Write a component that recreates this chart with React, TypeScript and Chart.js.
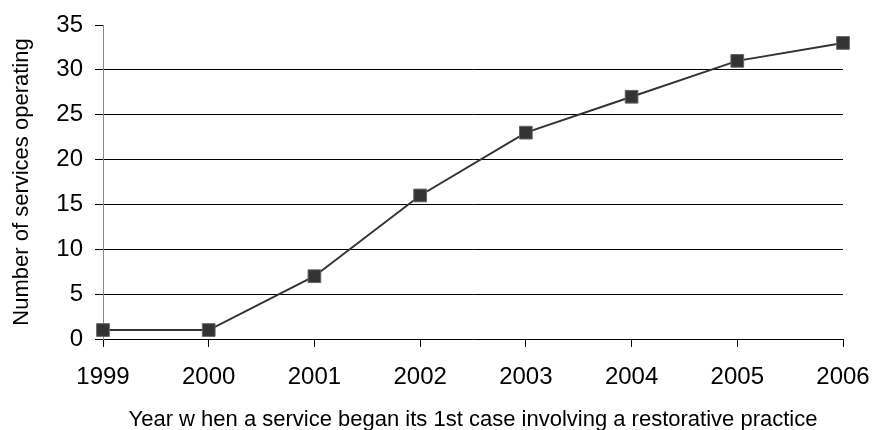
import React, { useEffect, useRef } from "react";
import { Chart, registerables } from "chart.js";

Chart.register(...registerables);

const years = ["1999", "2000", "2001", "2002", "2003", "2004", "2005", "2006"];
const services = [1, 1, 7, 16, 23, 27, 31, 33];
const yMin = 0;
const yMax = 35;
const yStep = 5;
const xTitle = "Year w hen a service began its 1st case involving a restorative practice";
const yTitle = "Number of services operating";

const FONT = "'Liberation Sans', Arial, sans-serif";

export default function App() {
  const ref = useRef<HTMLCanvasElement | null>(null);

  useEffect(() => {
    if (!ref.current) return;
    const chart = new Chart(ref.current, {
      type: "line",
      data: {
        labels: years,
        datasets: [
          {
            data: services,
            borderColor: "#333333",
            borderWidth: 2,
            backgroundColor: "#333333",
            pointStyle: "rect",
            pointRadius: 9,
            pointHoverRadius: 9,
            pointBackgroundColor: "#333333",
            pointBorderColor: "#666666",
            pointBorderWidth: 1,
            tension: 0,
            clip: false as any,
          },
        ],
      },
      options: {
        animation: false,
        responsive: false,
        maintainAspectRatio: false,
        layout: { padding: { left: 0, top: 25, right: 32, bottom: 0 } },
        plugins: { legend: { display: false }, tooltip: { enabled: false } },
        scales: {
          x: {
            type: "category",
            offset: false,
            border: { display: true, color: "#000000", width: 1 },
            grid: {
              drawOnChartArea: false,
              drawTicks: true,
              tickLength: 8,
              tickColor: "#000000",
              color: "#000000",
            },
            ticks: {
              color: "#000000",
              font: { family: FONT, size: 24 },
              padding: 16,
              maxRotation: 0,
              autoSkip: false,
            },
            title: {
              display: true,
              text: xTitle,
              color: "#000000",
              font: { family: FONT, size: 22, lineHeight: 0.9 },
              padding: { top: 0, bottom: 0 },
            },
            afterFit: (scale: any) => {
              scale.height = 91;
              scale.paddingLeft = 0;
              scale.paddingRight = 0;
            },
          },
          y: {
            min: yMin,
            max: yMax,
            border: { display: true, color: "#888888", width: 1 },
            grid: {
              drawTicks: true,
              tickLength: 8,
              tickColor: "#000000",
              lineWidth: 1,
              color: (ctx: any) =>
                ctx.tick && (ctx.tick.value === yMax || ctx.tick.value === yMin)
                  ? "rgba(0,0,0,0)"
                  : "#000000",
            },
            ticks: {
              stepSize: yStep,
              color: "#000000",
              font: { family: FONT, size: 24 },
              padding: 12,
            },
            title: {
              display: true,
              text: yTitle,
              color: "#000000",
              font: { family: FONT, size: 22, lineHeight: 1 },
              padding: { top: 11, bottom: 0 },
            },
            afterFit: (scale: any) => {
              scale.width = 103;
              scale.paddingTop = 0;
              scale.paddingBottom = 0;
            },
          },
        },
      },
    });
    return () => chart.destroy();
  }, []);

  return (
    <div style={{ position: "fixed", left: 0, top: 0, width: 875, height: 430, background: "#ffffff" }}>
      <canvas ref={ref} width={875} height={430} style={{ width: 875, height: 430, display: "block" }} />
    </div>
  );
}
